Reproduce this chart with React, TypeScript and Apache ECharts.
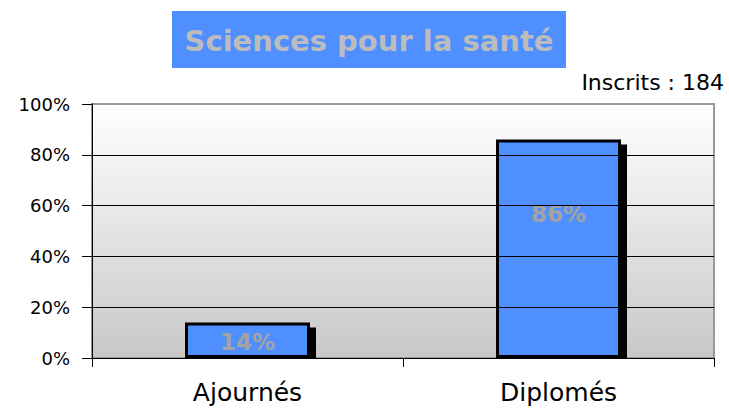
import React, { useEffect, useRef } from "react";
import * as echarts from "echarts";

const categories = ["Ajournés", "Diplomés"];
const percentages = [14, 86];
const yTicks = [0, 20, 40, 60, 80, 100];
const titleText = "Sciences pour la santé";
const enrolledText = "Inscrits : 184";

// label vertical placement within each bar (fraction of bar height from top)
const labelPlacement = ["54%", "34%"];

export default function App() {
  const ref = useRef<HTMLDivElement>(null);
  useEffect(() => {
    if (!ref.current) return;
    const chart = echarts.init(ref.current, null, { renderer: "svg" });
    const barW = 127;
    chart.setOption({
      animation: false,
      backgroundColor: "#ffffff",
      grid: {
        left: 92,
        right: 15,
        top: 104,
        bottom: 55,
        show: true,
        borderColor: "#999999",
        borderWidth: 2,
        backgroundColor: {
          type: "linear",
          x: 0,
          y: 0,
          x2: 0,
          y2: 1,
          colorStops: [
            { offset: 0, color: "#ffffff" },
            { offset: 1, color: "#c8c8c8" },
          ],
        },
      },
      xAxis: {
        type: "category",
        data: categories,
        boundaryGap: true,
        axisLine: { show: true, lineStyle: { color: "#000", width: 1 } },
        axisTick: { show: true, length: 9, lineStyle: { color: "#000" } },
        axisLabel: {
          margin: 22,
          color: "#000",
          fontSize: 25,
          fontFamily: "DejaVu Sans",
        },
        splitLine: { show: false },
        z: 5,
      },
      yAxis: {
        type: "value",
        min: 0,
        max: 100,
        interval: 20,
        axisLine: { show: true, lineStyle: { color: "#000", width: 1 } },
        axisTick: { show: true, length: 10, lineStyle: { color: "#000" } },
        axisLabel: {
          margin: 22,
          color: "#000",
          fontSize: 18,
          fontFamily: "DejaVu Sans",
          formatter: (v: number) => (yTicks.includes(v) ? v + "%" : ""),
        },
        splitLine: {
          show: true,
          lineStyle: {
            color: ["#000", "#000", "#000", "#000", "#000", "#999"],
            width: 1,
          },
        },
        z: 5,
      },
      graphic: [
        {
          type: "rect",
          shape: { x: 172, y: 11, width: 394, height: 57 },
          style: { fill: "#4f8fff" },
        },
        {
          type: "text",
          x: 369,
          y: 41,
          style: {
            text: titleText,
            fill: "#bcbcbc",
            font: "bold 29px 'DejaVu Sans'",
            align: "center",
            verticalAlign: "middle",
          },
        },
        {
          type: "text",
          right: 5,
          top: 71,
          style: {
            text: enrolledText,
            fill: "#000",
            font: "22px 'DejaVu Sans'",
          },
        },
      ],
      series: [
        {
          type: "custom",
          z: 1,
          data: percentages.map((v, i) => [i, v]),
          renderItem: (params: any, api: any) => {
            const top = api.coord([api.value(0), api.value(1)]);
            const base = api.coord([api.value(0), 0]);
            const off = 5;
            return {
              type: "rect",
              shape: {
                x: top[0] - barW / 2 + off,
                y: top[1] + off,
                width: barW,
                height: base[1] - top[1] - off,
              },
              style: { fill: "#000" },
            };
          },
        },
        {
          type: "bar",
          z: 2,
          barWidth: barW - 2,
          data: percentages.map((v, i) => ({
            value: v,
            label: { position: ["50%", labelPlacement[i]] },
          })),
          itemStyle: {
            color: "#4f8fff",
            borderColor: "#000",
            borderWidth: 3,
          },
          label: {
            show: true,
            formatter: (p: any) => p.value + "%",
            color: "#a3a3a3",
            fontSize: 23,
            fontWeight: "bold",
            fontFamily: "DejaVu Sans",
            align: "center",
            verticalAlign: "middle",
          },
        },
      ],
    });
    return () => chart.dispose();
  }, []);
  return (
    <div
      ref={ref}
      style={{ position: "fixed", left: 0, top: 0, width: 729, height: 413 }}
    />
  );
}
